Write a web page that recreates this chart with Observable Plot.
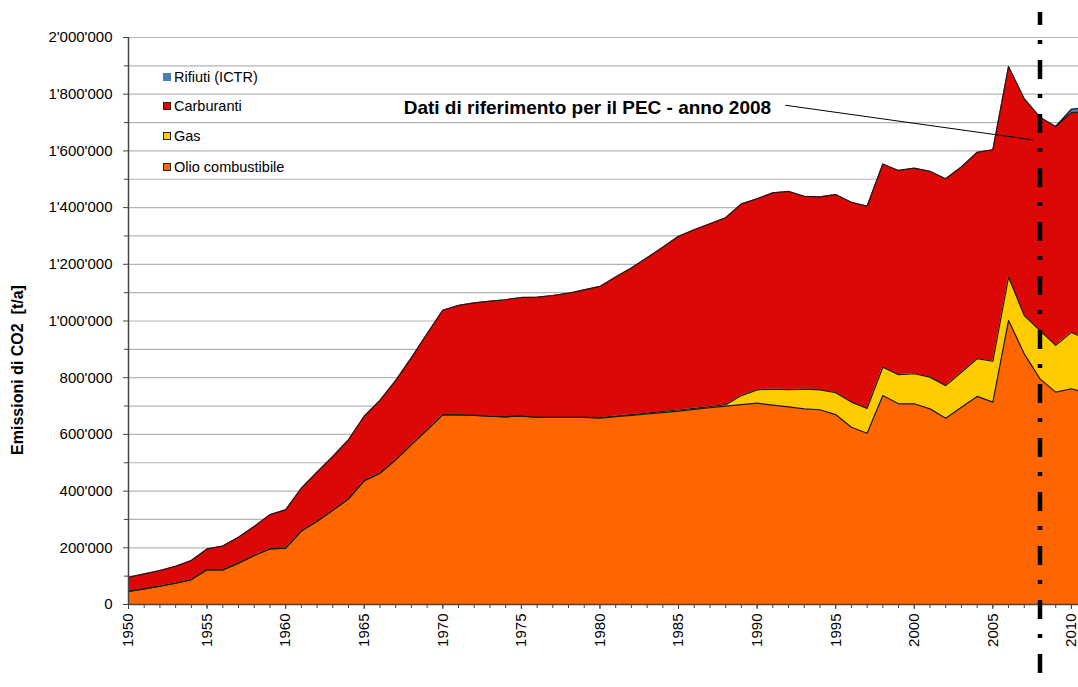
<!DOCTYPE html>
<html>
<head>
<meta charset="utf-8">
<script src="https://cdn.jsdelivr.net/npm/d3@7"></script>
<script src="https://cdn.jsdelivr.net/npm/@observablehq/plot@0.6"></script>
<style>
  html, body { margin: 0; padding: 0; background: #fff; }
  body { font-family: "Liberation Sans", Arial, sans-serif; }
  #wrap { position: relative; width: 1078px; height: 687px; overflow: hidden; }
  .ytitle { position: absolute; left: 18px; top: 370px; transform: translate(-50%, -50%) rotate(-90deg);
            font-weight: bold; font-size: 16px; white-space: pre; color: #000; }
  .legend { position: absolute; left: 163px; top: 0; font-size: 14.5px; color: #000; }
  .item { position: absolute; left: 0; white-space: nowrap; display: flex; align-items: center; height: 18px; }
  .sw { width: 8px; height: 8px; box-sizing: border-box; margin-right: 3px; }
</style>
</head>
<body>
<div id="wrap"></div>
<script>
// ---- data ----
const years = d3.range(1950, 2012);
const olio = [
  46000, 55000, 65000, 75000, 88000, 123000, 122000, 146000, 173000, 196000,
  199000, 259000, 294000, 332000, 373000, 437000, 463000, 510000, 564000, 616000,
  670000, 669000, 667000, 664000, 662000, 665000, 660000, 660000, 660000, 660000,
  657000, 663000, 667000, 672000, 677000, 682000, 688000, 694000, 700000, 705000,
  710000, 703000, 697000, 690000, 687000, 670000, 625000, 604000, 737000, 708000,
  708000, 690000, 657000, 696000, 734000, 714000, 1002000, 884000, 796000, 749000,
  761000, 745000
];
const gas = [
  0, 0, 0, 0, 0, 0, 0, 0, 0, 0,
  0, 0, 0, 0, 0, 0, 0, 0, 0, 0,
  0, 0, 0, 0, 0, 0, 0, 0, 0, 0,
  2000, 2000, 3000, 3000, 4000, 4000, 4000, 4000, 5000, 32000,
  47000, 57000, 61000, 70000, 70000, 77000, 89000, 88000, 100000, 103000,
  106000, 112000, 115000, 123000, 133000, 144000, 153000, 135000, 170000, 165000,
  199000, 190000
];
const carburanti = [
  50000, 53000, 55000, 60000, 67000, 73000, 84000, 91000, 102000, 121000,
  135000, 151000, 173000, 190000, 208000, 227000, 257000, 280000, 306000, 339000,
  368000, 386000, 397000, 406000, 413000, 418000, 424000, 430000, 438000, 450000,
  463000, 490000, 517000, 548000, 579000, 613000, 630000, 645000, 659000, 676000,
  674000, 692000, 699000, 680000, 681000, 699000, 705000, 713000, 717000, 720000,
  725000, 726000, 730000, 724000, 728000, 746000, 743000, 765000, 753000, 772000,
  775000, 805000
];
const rifiutiYears = [2009, 2010, 2011];
const rifiuti = [0, 12000, 15000];

const seriesNames = ["Olio combustibile", "Gas", "Carburanti", "Rifiuti (ICTR)"];
const seriesColors = ["#FF6600", "#FFCC00", "#DC0806", "#4A7EBB"];
const legendOrder = ["Rifiuti (ICTR)", "Carburanti", "Gas", "Olio combustibile"];

const yMajorTicks = d3.range(0, 2000001, 200000);
const yMinorTicks = d3.range(100000, 2000000, 200000);
const yGridTicks = d3.range(100000, 2000001, 100000);
const xLabelTicks = d3.range(1950, 2011, 5);
const xMinorTicks = d3.range(1950, 2011);
const referenceYear = [2008];
const annotationText = [{year: 1979.2, value: 1750000, label: "Dati di riferimento per il PEC - anno 2008"}];
const annotationLine = [{year1: 1991.8, value1: 1761000, year2: 2007.53, value2: 1639000}];

// ---- table ----
const rows = [];
years.forEach((yr, i) => {
  rows.push({year: yr, serie: "Olio combustibile", value: olio[i]});
  rows.push({year: yr, serie: "Gas", value: gas[i]});
  rows.push({year: yr, serie: "Carburanti", value: carburanti[i]});
});
rifiutiYears.forEach((yr, i) => rows.push({year: yr, serie: "Rifiuti (ICTR)", value: rifiuti[i]}));

const fmt = d => d3.format(",")(d).replace(/,/g, "'");

const chart = Plot.plot({
  width: 1078,
  height: 687,
  marginLeft: 128,
  marginRight: 0,
  marginTop: 37,
  marginBottom: 83,
  style: {fontFamily: "'Liberation Sans', Arial, sans-serif", fontSize: "15px", color: "#000", background: "transparent"},
  x: {domain: [1950, 2010.45], label: null},
  y: {domain: [0, 2000000], label: null},
  color: {domain: seriesNames, range: seriesColors},
  marks: [
    Plot.gridY(yGridTicks, {stroke: "#b4b4b4", strokeOpacity: 1, strokeWidth: 1.2}),
    Plot.areaY(rows, {x: "year", y: "value", z: "serie", fill: "serie", order: seriesNames, clip: true}),
    Plot.lineY(rows, Plot.stackY2({x: "year", y: "value", z: "serie", order: seriesNames, stroke: "#1a1a1a", strokeWidth: 1.2, clip: true})),
    Plot.ruleY([0], {stroke: "#444", strokeWidth: 1.5}),
    Plot.ruleX([1950], {stroke: "#444", strokeWidth: 1.5}),
    Plot.axisY(yMajorTicks, {tickFormat: fmt, tickSize: 5, tickPadding: 11, fontSize: 15, stroke: "#444", label: null}),
    Plot.axisY(yMinorTicks, {tickFormat: () => "", tickSize: 4, stroke: "#444", label: null}),
    Plot.axisX(xLabelTicks, {tickFormat: d => String(d), tickRotate: -90, tickSize: 5, tickPadding: 4, fontSize: 15, stroke: "#444", label: null}),
    Plot.axisX(xMinorTicks, {tickFormat: () => "", tickSize: 4, stroke: "#444", label: null}),
    Plot.link(annotationLine, {x1: "year1", y1: "value1", x2: "year2", y2: "value2", stroke: "#000", strokeWidth: 1}),
    Plot.text(annotationText, {x: "year", y: "value", text: "label", fontWeight: "bold", fontSize: 19, textAnchor: "middle", fill: "#000"}),
    Plot.ruleX(referenceYear, {stroke: "#000", strokeWidth: 4.5, strokeDasharray: "19,15,4,16", strokeDashoffset: 6, insetTop: -25, insetBottom: -83})
  ]
});

const wrap = document.getElementById("wrap");
wrap.appendChild(chart);

const yt = document.createElement("div");
yt.className = "ytitle";
yt.textContent = "Emissioni di CO2  [t/a]";
wrap.appendChild(yt);

const legend = document.createElement("div");
legend.className = "legend";
const legendTops = [68, 97, 127, 158];
legendOrder.forEach((name, i) => {
  const it = document.createElement("div");
  it.className = "item";
  it.style.top = legendTops[i] + "px";
  const sw = document.createElement("div");
  sw.className = "sw";
  sw.style.background = seriesColors[seriesNames.indexOf(name)];
  if (name !== "Rifiuti (ICTR)") sw.style.border = "1px solid #222";
  const tx = document.createElement("span");
  tx.textContent = name;
  it.appendChild(sw);
  it.appendChild(tx);
  legend.appendChild(it);
});
wrap.appendChild(legend);
</script>
</body>
</html>
